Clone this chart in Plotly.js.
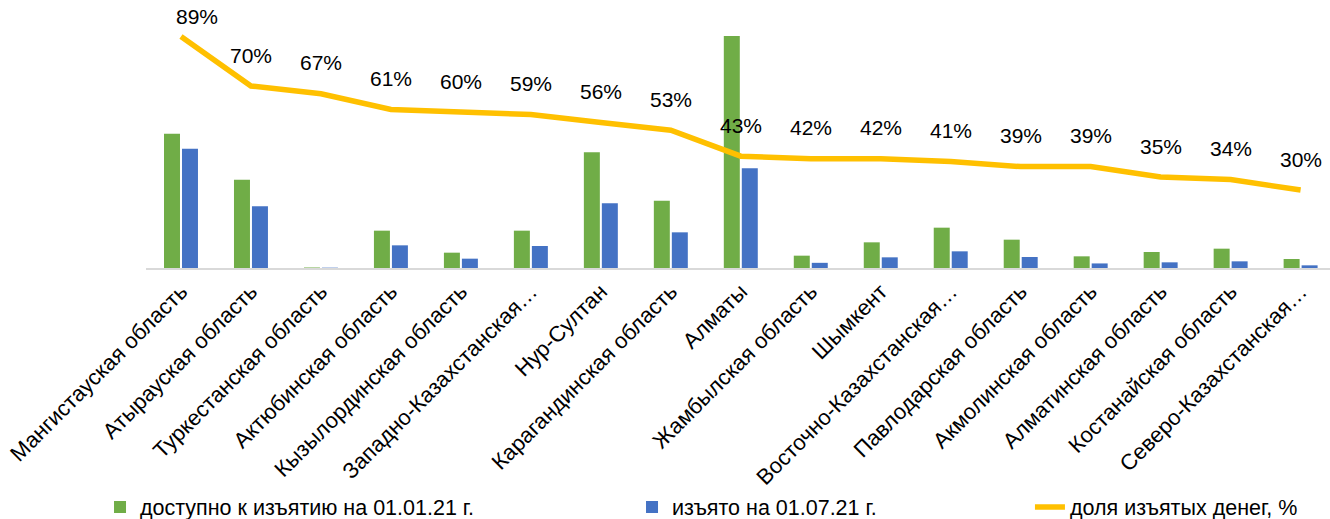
<!DOCTYPE html>
<html>
<head>
<meta charset="utf-8">
<script src="https://cdn.plot.ly/plotly-3.0.1.min.js"></script>
<style>
  html, body { margin: 0; padding: 0; background: #ffffff; }
  #chart { width: 1330px; height: 519px; }
</style>
</head>
<body>
<div id="chart"></div>
<script>
// Regions (tick labels as shown, truncated where the original truncates)
const regions = [
  "Мангистауская область",
  "Атырауская область",
  "Туркестанская область",
  "Актюбинская область",
  "Кызылординская область",
  "Западно-Казахстанская…",
  "Нур-Султан",
  "Карагандинская область",
  "Алматы",
  "Жамбылская область",
  "Шымкент",
  "Восточно-Казахстанская…",
  "Павлодарская область",
  "Акмолинская область",
  "Алматинская область",
  "Костанайская область",
  "Северо-Казахстанская…"
];

// Available for withdrawal on 01.01.21 (estimated, relative units)
const available = [403, 265, 1.5, 112, 46, 112, 347, 202, 696, 37, 77, 121, 85, 35, 48, 58, 27];

// Withdrawn on 01.07.21 (estimated, relative units)
const withdrawn = [358, 185, 1.0, 68, 28, 66, 194, 107, 299, 15.5, 32, 50, 33, 13.7, 17, 20, 8];

// Share of withdrawn money, %
const sharePct = [89, 70, 67, 61, 60, 59, 56, 53, 43, 42, 42, 41, 39, 39, 35, 34, 30];

const seriesNames = [
  "доступно к изъятию на 01.01.21 г.",
  "изъято на 01.07.21 г.",
  "доля изъятых денег, %"
];

const FONT = "'Liberation Sans', Arial, 'DejaVu Sans', sans-serif";
const GREEN = "#70AD47", BLUE = "#4472C4", GOLD = "#FFC000";

const traces = [
  {
    type: "bar", name: seriesNames[0], x: regions, y: available,
    marker: { color: GREEN, line: { width: 0 } },
    legend: "legend", hoverinfo: "x+y"
  },
  {
    type: "bar", name: seriesNames[1], x: regions, y: withdrawn,
    marker: { color: BLUE, line: { width: 0 } },
    legend: "legend2", hoverinfo: "x+y"
  },
  {
    type: "scatter", mode: "lines", name: seriesNames[2], x: regions, y: sharePct,
    yaxis: "y2", line: { color: GOLD, width: 5.5 },
    legend: "legend3", hoverinfo: "x+y"
  }
];

const annotations = sharePct.map((v, i) => ({
  x: regions[i], y: v, xref: "x", yref: "y2",
  text: v + "%", showarrow: false,
  xanchor: "center", yanchor: "middle",
  xshift: i === 0 ? 16 : 0,
  yshift: i === 0 ? 20 : 31,
  font: { family: FONT, size: 21, color: "#000000" }
}));

const legendCommon = {
  orientation: "h", xref: "container", yref: "container",
  yanchor: "middle", xanchor: "left", y: 0.023,
  font: { family: FONT, size: 21.5, color: "#000000" },
  bgcolor: "rgba(0,0,0,0)", borderwidth: 0
};

const layout = {
  width: 1330, height: 519,
  margin: { l: 146, r: 0, t: 8, b: 251, autoexpand: false },
  paper_bgcolor: "#ffffff", plot_bgcolor: "#ffffff",
  font: { family: FONT, size: 20, color: "#000000" },
  barmode: "group", bargap: 0.486, bargroupgap: 0.111,
  xaxis: {
    type: "category", range: [-0.5, 16.42],
    tickangle: -45, tickfont: { family: FONT, size: 22, color: "#000000" },
    showline: true, linecolor: "#D9D9D9", linewidth: 2,
    showgrid: false, zeroline: false, ticks: "", automargin: false
  },
  yaxis: {
    range: [0, 780], visible: false, showgrid: false, zeroline: false
  },
  yaxis2: {
    range: [0, 100], overlaying: "y", side: "right",
    visible: false, showgrid: false, zeroline: false
  },
  legend: Object.assign({}, legendCommon, { x: 0.0752 }),
  legend2: Object.assign({}, legendCommon, { x: 0.4752 }),
  legend3: Object.assign({}, legendCommon, { x: 0.7744 }),
  annotations: annotations,
  showlegend: true
};

Plotly.newPlot("chart", traces, layout, { displayModeBar: false, staticPlot: true });
</script>
</body>
</html>
